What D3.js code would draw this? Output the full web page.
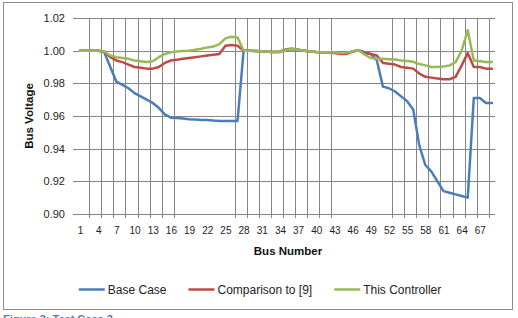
<!DOCTYPE html>
<html>
<head>
<meta charset="utf-8">
<script src="https://cdnjs.cloudflare.com/ajax/libs/d3/7.8.5/d3.min.js"></script>
<style>
  body { margin: 0; background: #fff; }
  svg { display: block; }
  text { font-family: "Liberation Sans", Arial, sans-serif; }
</style>
</head>
<body>
<div id="chart"></div>
<script>
// bus numbers 1..69
const buses = d3.range(1, 70);

const baseCase = [
  1.000, 1.000, 1.000, 1.000, 0.999, 0.990, 0.981, 0.979, 0.977, 0.974,
  0.972, 0.970, 0.968, 0.965, 0.961, 0.959, 0.9588, 0.9585, 0.958, 0.9578,
  0.9575, 0.9575, 0.9572, 0.957, 0.957, 0.957, 0.957, 1.000, 1.000, 0.9998,
  0.9996, 0.9994, 0.9992, 0.9992, 1.0005, 1.001, 1.0005, 1.000, 0.9995, 0.9992,
  0.999, 0.999, 0.999, 0.9985, 0.9988, 0.9995, 1.0002, 0.999, 0.998, 0.994,
  0.978, 0.977, 0.975, 0.972, 0.969, 0.964, 0.942, 0.930, 0.926, 0.920,
  0.914, 0.913, 0.912, 0.911, 0.910, 0.971, 0.971, 0.968, 0.968
];

const comparison = [
  1.000, 1.000, 1.000, 1.000, 0.9995, 0.996, 0.994, 0.993, 0.9915, 0.990,
  0.9895, 0.989, 0.989, 0.990, 0.9925, 0.994, 0.9945, 0.995, 0.9955, 0.996,
  0.9965, 0.997, 0.9975, 0.998, 1.003, 1.0035, 1.003, 1.000, 1.000, 0.9998,
  0.9996, 0.9994, 0.9992, 0.9995, 1.0008, 1.0012, 1.0005, 1.000, 0.9995, 0.9992,
  0.999, 0.999, 0.9985, 0.998, 0.998, 0.9995, 1.0002, 0.9985, 0.998, 0.997,
  0.9925, 0.992, 0.9915, 0.990, 0.9895, 0.989, 0.986, 0.984, 0.9835, 0.983,
  0.9825, 0.9825, 0.984, 0.991, 0.9985, 0.990, 0.990, 0.989, 0.989
];

const controller = [
  1.000, 1.000, 1.000, 1.000, 0.9995, 0.997, 0.996, 0.9955, 0.995, 0.994,
  0.9935, 0.993, 0.9935, 0.996, 0.998, 0.999, 0.9995, 0.9998, 1.000, 1.0005,
  1.0012, 1.002, 1.0025, 1.004, 1.0075, 1.0085, 1.008, 1.000, 1.000, 0.9998,
  0.9996, 0.9994, 0.9992, 0.9992, 1.0005, 1.001, 1.0005, 1.000, 0.9995, 0.9992,
  0.999, 0.999, 0.999, 0.9985, 0.9988, 0.9995, 1.0002, 0.9975, 0.9955, 0.995,
  0.995, 0.9948, 0.9946, 0.994, 0.9937, 0.9932, 0.9918, 0.991, 0.990, 0.990,
  0.9903, 0.991, 0.993, 1.000, 1.0125, 0.994, 0.9935, 0.993, 0.993
];

const yTicks = [0.90, 0.92, 0.94, 0.96, 0.98, 1.00, 1.02];
const xLabels = [1, 4, 7, 10, 13, 16, 19, 22, 25, 28, 31, 34, 37, 40, 43, 46, 49, 52, 55, 58, 61, 64, 67];
// category boundaries that carry a vertical gridline in the original
const gridBounds = [2.5, 4.5, 6.5, 8.5, 10.5, 12.5, 14.5, 16.5,
  26.5, 28.5, 30.5, 32.5, 34.5, 36.5, 38.5, 40.5, 42.5,
  52.5, 54.5, 56.5, 58.5, 60.5, 62.5, 64.5, 66.5, 68.5];

const seriesNames = ["Base Case", "Comparison to [9]", "This Controller"];
const seriesColors = ["#4a7ebb", "#be4b48", "#98b954"];
const seriesValues = [baseCase, comparison, controller];

const width = 518, height = 318;
const gridColor = "#868686";

const svg = d3.select("#chart").append("svg")
  .attr("width", width)
  .attr("height", height);

svg.append("rect")
  .attr("width", width).attr("height", height)
  .attr("fill", "#fff");

// outer frame
svg.append("rect")
  .attr("x", 3.5).attr("y", 2.5)
  .attr("width", 509).attr("height", 307)
  .attr("fill", "none")
  .attr("stroke", "#8c8c8c")
  .attr("stroke-width", 1);

const x = d3.scaleLinear().domain([0.5, 69.5]).range([77, 495]);
const y = d3.scaleLinear().domain([0.90, 1.02]).range([214, 18]);

// horizontal gridlines + y labels
svg.append("g")
  .attr("transform", "translate(495,0)")
  .call(d3.axisLeft(y).tickValues(yTicks).tickSize(422).tickPadding(8).tickFormat(d3.format(".2f")))
  .call(g => g.select(".domain").remove())
  .call(g => g.selectAll("line").attr("stroke", gridColor).attr("shape-rendering", "crispEdges"))
  .call(g => g.selectAll("text")
    .attr("font-family", "'Liberation Sans', Arial, sans-serif")
    .attr("font-size", 11)
    .attr("fill", "#222"));

// vertical gridlines (with small tick below the axis)
svg.append("g")
  .attr("transform", "translate(0,218)")
  .call(d3.axisBottom(x).tickValues(gridBounds).tickSize(-200).tickFormat(""))
  .call(g => g.select(".domain").remove())
  .call(g => g.selectAll("line").attr("stroke", gridColor).attr("shape-rendering", "crispEdges"));

// x labels
svg.append("g")
  .attr("transform", "translate(0,214)")
  .call(d3.axisBottom(x).tickValues(xLabels).tickSize(0).tickPadding(13))
  .call(g => g.select(".domain").remove())
  .call(g => g.selectAll("text")
    .attr("font-family", "'Liberation Sans', Arial, sans-serif")
    .attr("font-size", 10)
    .attr("fill", "#222"));

// series lines
const line = d3.line()
  .x((d, i) => x(buses[i]))
  .y(d => y(d));

svg.append("g")
  .selectAll("path")
  .data(seriesValues)
  .enter().append("path")
    .attr("d", line)
    .attr("fill", "none")
    .attr("stroke", (d, i) => seriesColors[i])
    .attr("stroke-width", 2.5)
    .attr("stroke-linejoin", "round")
    .attr("stroke-linecap", "round");

// axis titles
svg.append("text")
  .attr("transform", "translate(33,116) rotate(-90)")
  .attr("text-anchor", "middle")
  .attr("font-size", 11.5)
  .attr("font-weight", "bold")
  .attr("fill", "#111")
  .text("Bus Voltage");

svg.append("text")
  .attr("x", 288).attr("y", 255)
  .attr("text-anchor", "middle")
  .attr("font-size", 11.5)
  .attr("font-weight", "bold")
  .attr("fill", "#111")
  .text("Bus Number");

// legend
const legend = svg.append("g");
let lx = 0;
seriesNames.forEach((name, i) => {
  const item = legend.append("g").attr("transform", `translate(${lx},0)`);
  item.append("line")
    .attr("x1", 0).attr("x2", 26)
    .attr("y1", 0).attr("y2", 0)
    .attr("stroke", seriesColors[i])
    .attr("stroke-width", 2.5);
  const t = item.append("text")
    .attr("x", 29).attr("y", 4)
    .attr("font-size", 12)
    .attr("fill", "#222")
    .text(name);
  lx += 29 + t.node().getComputedTextLength() + 22;
});
lx -= 22;
legend.attr("transform", `translate(${260 - lx / 2},289.5)`);

// caption, cut off by the bottom edge as in the source picture
svg.append("text")
  .attr("x", 3).attr("y", 323)
  .attr("font-size", 11)
  .attr("font-weight", "bold")
  .attr("fill", "#4f81bd")
  .text("Figure 3: Test Case 3");
</script>
</body>
</html>
